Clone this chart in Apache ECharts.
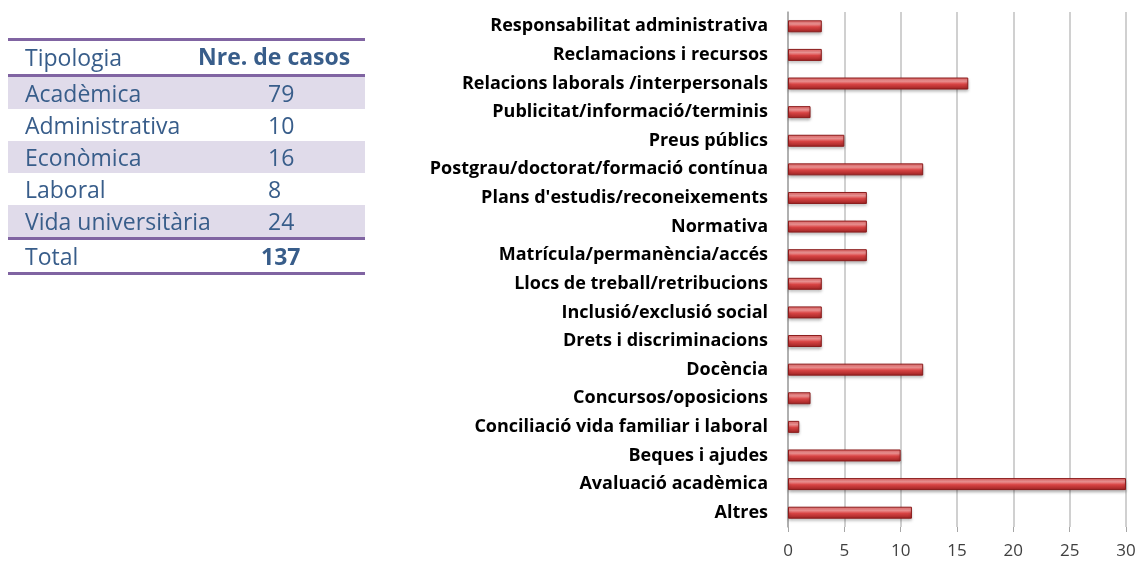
<!DOCTYPE html>
<html>
<head>
<meta charset="utf-8">
<script src="https://cdn.jsdelivr.net/npm/echarts@6/dist/echarts.min.js"></script>
<style>
  body { margin: 0; background: #fff; }
  #board { position: absolute; left: 0; top: 0; width: 1139px; height: 562px; }
  #taula {
    position: absolute; left: 8px; top: 38px; width: 357px;
    border-collapse: collapse; table-layout: fixed; font-family: "Open Sans", sans-serif;
    font-size: 23px; line-height: 1; color: #385d8a;
  }
  #taula td, #taula th { height: 32px; padding: 0 0 0 17px; text-align: left; font-weight: normal; white-space: nowrap; }
  #taula td.c1, #taula th.c1 { width: 235px; }
  #taula thead tr { border-top: 3px solid #8064a2; border-bottom: 3px solid #8064a2; }
  #taula thead th { height: 33px; }
  #taula tfoot tr { border-top: 3px solid #8064a2; border-bottom: 3px solid #8064a2; }
  #taula tr.fosc { background: #e0dbea; }
  #taula .num { padding-left: 8px; }
  #taula .b { font-weight: bold; }
</style>
</head>
<body>
<div id="board"></div>
<table id="taula"></table>

<script>
// taula de tipologies
const tipologies = ['Acadèmica', 'Administrativa', 'Econòmica', 'Laboral', 'Vida universitària']
const casos = [79, 10, 16, 8, 24]
const total = 137

// gràfic de barres (de baix a dalt)
const temes = [
  'Altres',
  'Avaluació acadèmica',
  'Beques i ajudes',
  'Conciliació vida familiar i laboral',
  'Concursos/oposicions',
  'Docència',
  'Drets i discriminacions',
  'Inclusió/exclusió social',
  'Llocs de treball/retribucions',
  'Matrícula/permanència/accés',
  'Normativa',
  "Plans d'estudis/reconeixements",
  'Postgrau/doctorat/formació contínua',
  'Preus públics',
  'Publicitat/informació/terminis',
  'Relacions laborals /interpersonals',
  'Reclamacions i recursos',
  'Responsabilitat administrativa'
]
const valors = [11, 30, 10, 1, 2, 12, 3, 3, 3, 7, 7, 7, 12, 5, 2, 16, 3, 3]
const eixX = [0, 5, 10, 15, 20, 25, 30]

function drawTable() {
  let t = document.getElementById('taula')
  let html = '<thead><tr><th class="c1">Tipologia</th><th class="b" style="padding-left:0"><span style="position:relative;left:-62px;top:-1px">Nre. de casos</span></th></tr></thead><tbody>'
  tipologies.forEach((x, i) => {
    html += '<tr' + (i % 2 == 0 ? ' class="fosc"' : '') + '><td class="c1">' + x + '</td><td class="num">' + casos[i] + '</td></tr>'
  })
  html += '</tbody><tfoot><tr><td class="c1">Total</td><td class="num b" style="padding-left:1px">' + total + '</td></tr></tfoot>'
  t.innerHTML = html
}

function drawBoard() {
  let myChart = echarts.init(document.getElementById('board'))
  myChart.setOption({
    animation: false,
    grid: { left: 788, right: 13, top: 12, bottom: 35 },
    xAxis: {
      type: 'value',
      min: 0, max: 30, interval: 5,
      axisLine: { show: false },
      axisTick: { show: true, length: 5, lineStyle: { color: '#a6a6a6' } },
      splitLine: { lineStyle: { color: '#c0c0c0', width: 1.5 } },
      axisLabel: {
        color: '#404040', fontSize: 17, margin: 16,
        fontFamily: 'Open Sans',
        formatter: v => eixX.includes(v) ? String(v) : ''
      }
    },
    yAxis: {
      type: 'category',
      data: temes,
      axisLine: { lineStyle: { color: '#a6a6a6', width: 1.5 } },
      axisTick: { length: 6, lineStyle: { color: '#a6a6a6' } },
      axisLabel: {
        color: '#000', fontSize: 18, fontWeight: 'bold', margin: 20,
        fontFamily: 'Open Sans'
      }
    },
    series: [{
      type: 'bar',
      data: valors,
      barWidth: 12,
      itemStyle: {
        color: new echarts.graphic.LinearGradient(0, 0, 0, 1, [
          { offset: 0, color: '#e86464' },
          { offset: 0.3, color: '#f79a9a' },
          { offset: 0.55, color: '#d84444' },
          { offset: 1, color: '#9c2222' }
        ]),
        borderColor: '#8a1c1c',
        borderWidth: 1,
        shadowColor: 'rgba(0,0,0,0.3)',
        shadowBlur: 3,
        shadowOffsetY: 2
      }
    }]
  })
}

drawTable()
drawBoard()
</script>
</body>
</html>
